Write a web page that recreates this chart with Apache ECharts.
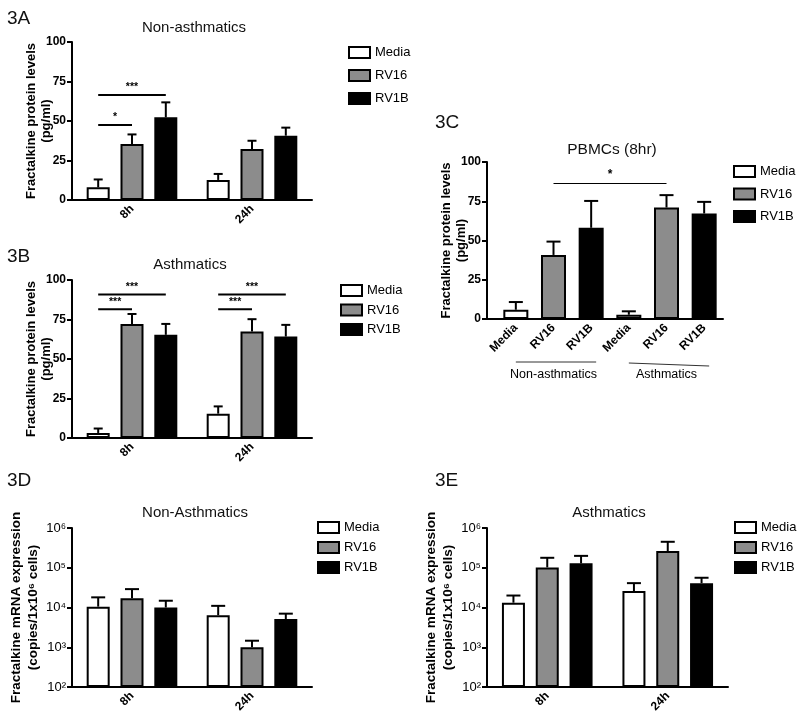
<!DOCTYPE html>
<html><head><meta charset="utf-8">
<script src="https://cdn.jsdelivr.net/npm/echarts@6/dist/echarts.min.js"></script>
<style>html,body{margin:0;padding:0;background:#fff}#c{width:800px;height:719px}</style>
</head><body><div id="c"></div>
<script>
// ---------- data ----------
const groups = ['Media', 'RV16', 'RV1B'];
const timeCats = ['8h', '24h'];
const linTicks = [0, 25, 50, 75, 100];
const logTickLabels = ['10²', '10³', '10⁴', '10⁵', '10⁶'];

// 3A Non-asthmatics (pg/ml), mean and top of error bar
const aMedia = [8, 12.7],    aMediaErr = [13, 16.5];
const aRV16  = [35.4, 32.3], aRV16Err  = [41.5, 37.5];
const aRV1B  = [52.3, 40.7], aRV1BErr  = [61.8, 45.8];
const aSig = [[0, 0, 2, 66.5], [0, 0, 1, 47.5]];   // [category, fromBar, toBar, level]
const aSigLabel = ['***', '*'];

// 3B Asthmatics (pg/ml)
const bMedia = [3.2, 15.4],  bMediaErr = [6, 20];
const bRV16  = [72.2, 67.4], bRV16Err  = [78.5, 75.2];
const bRV1B  = [65.3, 64.2], bRV1BErr  = [72.2, 71.6];
const bSig = [[0, 0, 2, 90.9], [0, 0, 1, 81.5], [1, 0, 2, 90.9], [1, 0, 1, 81.5]];
const bSigLabel = ['***', '***', '***', '***'];

// 3C PBMCs (8hr)
const cCats = ['Media', 'RV16', 'RV1B', 'Media', 'RV16', 'RV1B'];
const cGroups = ['Non-asthmatics', 'Asthmatics'];
const cGroupSpan = [[0, 2], [3, 5]];
const cVals = [5.9, 40.8, 58.1, 2.7, 71, 67.2];
const cErr  = [10.8, 49.3, 75.2, 4.9, 78.9, 74.6];
const cSig = [[1, 4, 86.3]];
const cSigLabel = ['*'];

// 3D Non-Asthmatics mRNA (copies/1x10^6 cells)
const dMedia = [10500, 6400],  dMediaErr = [18000, 11000];
const dRV16  = [17000, 1000],  dRV16Err  = [29000, 1460];
const dRV1B  = [10000, 5100],  dRV1BErr  = [14800, 7000];

// 3E Asthmatics mRNA
const eMedia = [13200, 26000],   eMediaErr = [20000, 41000];
const eRV16  = [102000, 264000], eRV16Err  = [178000, 450000];
const eRV1B  = [129000, 41000],  eRV1BErr  = [199000, 56000];

// ---------- styling ----------
const FONT = '"Liberation Sans", Arial, sans-serif';
const fills = ['#ffffff', '#8c8c8c', '#000000'];
const BW = 23, GAP = 0.47, SP = BW * (1 + GAP);

function baseX(gi, data, extra) {
  return Object.assign({
    type: 'category', gridIndex: gi, data: data,
    axisLine: {lineStyle: {color: '#000', width: 2}},
    axisTick: {alignWithLabel: true, length: 5, lineStyle: {color: '#000', width: 2}},
    axisLabel: {rotate: 45, margin: 7, color: '#000', fontFamily: FONT, fontWeight: 'bold', fontSize: 12},
    splitLine: {show: false}
  }, extra || {});
}
function linY(gi, name, extra) {
  return Object.assign({
    type: 'value', gridIndex: gi, min: linTicks[0], max: linTicks[linTicks.length - 1],
    interval: linTicks[1] - linTicks[0],
    name: name, nameLocation: 'middle', nameGap: 18, nameMoveOverlap: false,
    nameTextStyle: {fontFamily: FONT, fontWeight: 'bold', fontSize: 13, color: '#000', lineHeight: 15},
    axisLine: {show: true, lineStyle: {color: '#000', width: 2}},
    axisTick: {show: true, length: 5, lineStyle: {color: '#000', width: 2}},
    axisLabel: {margin: 6, color: '#000', fontFamily: FONT, fontWeight: 'bold', fontSize: 12},
    splitLine: {show: false}
  }, extra || {});
}
function logY(gi, name) {
  return {
    type: 'log', logBase: 10, gridIndex: gi, min: 100, max: 1000000, startValue: 100,
    name: name, nameLocation: 'middle', nameGap: 30,
    nameTextStyle: {fontFamily: FONT, fontWeight: 'bold', fontSize: 13.5, color: '#000', lineHeight: 17},
    axisLine: {show: true, lineStyle: {color: '#000', width: 2}},
    axisTick: {show: true, length: 5, lineStyle: {color: '#000', width: 2}},
    axisLabel: {margin: 6, color: '#000', fontFamily: FONT, fontSize: 13,
      formatter: v => logTickLabels[Math.round(Math.log10(v)) - 2]},
    minorTick: {show: false}, splitLine: {show: false}
  };
}

function grouped(gi, means, errs, cap) {
  const out = [];
  means.forEach((m, k) => {
    out.push({type: 'bar', name: groups[k], xAxisIndex: gi, yAxisIndex: gi, data: m,
      barWidth: BW, barGap: (GAP * 100) + '%', clip: true, silent: true,
      itemStyle: {color: fills[k], borderColor: '#000', borderWidth: 2}});
  });
  const ed = [];
  means.forEach((m, k) => m.forEach((v, c) => ed.push([c, v, errs[k][c], k])));
  out.push({type: 'custom', xAxisIndex: gi, yAxisIndex: gi, data: ed, silent: true, z: 3,
    encode: {x: 0, y: [1, 2]},
    renderItem: (p, api) => {
      const b = api.coord([api.value(0), api.value(1)]);
      const t = api.coord([api.value(0), api.value(2)]);
      const x = b[0] + (api.value(3) - 1) * SP;
      return {type: 'group', children: [
        {type: 'line', shape: {x1: x, y1: b[1], x2: x, y2: t[1]}, style: {stroke: '#000', lineWidth: 2}},
        {type: 'line', shape: {x1: x - cap, y1: t[1], x2: x + cap, y2: t[1]}, style: {stroke: '#000', lineWidth: 2}}
      ]};
    }});
  return out;
}
function sigGrouped(gi, rows, labels) {
  return {type: 'custom', xAxisIndex: gi, yAxisIndex: gi, data: rows, silent: true, z: 4,
    encode: {x: 0, y: 3},
    renderItem: (p, api) => {
      const a = api.coord([api.value(0), api.value(3)]);
      const x1 = a[0] + (api.value(1) - 1) * SP, x2 = a[0] + (api.value(2) - 1) * SP;
      return {type: 'group', children: [
        {type: 'line', shape: {x1: x1, y1: a[1], x2: x2, y2: a[1]}, style: {stroke: '#000', lineWidth: 2}},
        {type: 'text', x: (x1 + x2) / 2, y: a[1] - 2, style: {text: labels[p.dataIndex], align: 'center',
          verticalAlign: 'bottom', fontFamily: FONT, fontWeight: 'bold', fontSize: 10.5, fill: '#000'}}
      ]};
    }};
}

const protName = 'Fractalkine protein levels\n(pg/ml)';
const mrnaName = 'Fractalkine mRNA expression\n(copies/1x10⁶ cells)';

const series = [];
series.push(...grouped(0, [aMedia, aRV16, aRV1B], [aMediaErr, aRV16Err, aRV1BErr], 4.5));
series.push(sigGrouped(0, aSig, aSigLabel));
series.push(...grouped(1, [bMedia, bRV16, bRV1B], [bMediaErr, bRV16Err, bRV1BErr], 4.5));
series.push(sigGrouped(1, bSig, bSigLabel));
series.push(...grouped(3, [dMedia, dRV16, dRV1B], [dMediaErr, dRV16Err, dRV1BErr], 7));
series.push(...grouped(4, [eMedia, eRV16, eRV1B], [eMediaErr, eRV16Err, eRV1BErr], 7));

// 3C
groups.forEach((g, k) => {
  series.push({type: 'bar', name: g, xAxisIndex: 2, yAxisIndex: 2, barWidth: 25, barGap: '-100%', silent: true,
    data: cCats.map((n, i) => n === g ? cVals[i] : '-'),
    itemStyle: {color: fills[k], borderColor: '#000', borderWidth: 2}});
});
series.push({type: 'custom', xAxisIndex: 2, yAxisIndex: 2, silent: true, z: 3,
  data: cVals.map((v, i) => [i, v, cErr[i]]), encode: {x: 0, y: [1, 2]},
  renderItem: (p, api) => {
    const b = api.coord([api.value(0), api.value(1)]);
    const t = api.coord([api.value(0), api.value(2)]);
    return {type: 'group', children: [
      {type: 'line', shape: {x1: b[0], y1: b[1], x2: b[0], y2: t[1]}, style: {stroke: '#000', lineWidth: 2}},
      {type: 'line', shape: {x1: b[0] - 7, y1: t[1], x2: b[0] + 7, y2: t[1]}, style: {stroke: '#000', lineWidth: 2}}
    ]};
  }});
series.push({type: 'custom', xAxisIndex: 2, yAxisIndex: 2, silent: true, z: 4,
  data: cSig, encode: {x: [0, 1], y: 2},
  renderItem: (p, api) => {
    const a = api.coord([api.value(0), api.value(2)]);
    const b = api.coord([api.value(1), api.value(2)]);
    return {type: 'group', children: [
      {type: 'line', shape: {x1: a[0], y1: a[1], x2: b[0], y2: a[1]}, style: {stroke: '#000', lineWidth: 1}},
      {type: 'text', x: (a[0] + b[0]) / 2, y: a[1] - 3, style: {text: cSigLabel[p.dataIndex], align: 'center',
        verticalAlign: 'bottom', fontFamily: FONT, fontWeight: 'bold', fontSize: 12, fill: '#000'}}
    ]};
  }});
series.push({type: 'custom', xAxisIndex: 2, yAxisIndex: 2, silent: true,
  data: cGroupSpan, encode: {x: [0, 1]},
  renderItem: (p, api) => {
    const a = api.coord([api.value(0), 0]);
    const b = api.coord([api.value(1), 0]);
    const dy1 = p.dataIndex === 0 ? 43 : 44, dy2 = p.dataIndex === 0 ? 43 : 47;
    return {type: 'line', shape: {x1: a[0], y1: a[1] + dy1, x2: b[0] + 5, y2: a[1] + dy2},
      style: {stroke: '#333', lineWidth: 1}};
  }});

function legendAt(left, top, gap) {
  return {left: left, top: top, orient: 'vertical', data: groups, icon: 'rect', itemWidth: 21, itemHeight: 11,
    itemGap: gap, padding: 0, selectedMode: false,
    textStyle: {fontFamily: FONT, fontSize: 13, color: '#000'}};
}
function txt(x, y, s, size, align) {
  return {type: 'text', x: x, y: y, silent: true,
    style: {text: s, fontFamily: FONT, fontSize: size, fill: '#111', align: align || 'center', verticalAlign: 'middle'}};
}

const option = {
  animation: false,
  backgroundColor: '#fff',
  grid: [
    {left: 72, top: 42, width: 240, height: 158},
    {left: 72, top: 280, width: 240, height: 158},
    {left: 497, top: 162, width: 226, height: 157},
    {left: 72, top: 528, width: 240, height: 159},
    {left: 487, top: 528, width: 241, height: 159}
  ],
  xAxis: [
    baseX(0, timeCats), baseX(1, timeCats), baseX(2, cCats, {axisLabel: {rotate: 45, margin: 7, color: '#000',
      fontFamily: FONT, fontWeight: 'bold', fontSize: 12, formatter: (v, i) => cCats[i]}}),
    baseX(3, timeCats), baseX(4, timeCats),
    {type: 'category', gridIndex: 2, data: cGroups, position: 'bottom', offset: 44,
      axisLine: {show: false}, axisTick: {show: false}, splitLine: {show: false},
      axisLabel: {margin: 5, color: '#000', fontFamily: FONT, fontSize: 12.5}}
  ],
  yAxis: [
    linY(0, protName), linY(1, protName), linY(2, protName, {offset: 10, nameGap: 18}),
    logY(3, mrnaName), logY(4, mrnaName)
  ],
  legend: [legendAt(348, 46, 10), legendAt(340, 284, 6.5), legendAt(733, 165, 9.5),
           legendAt(317, 521, 7), legendAt(734, 521, 7)],
  graphic: [
    txt(7, 19, '3A', 19, 'left'), txt(194, 28, 'Non-asthmatics', 15),
    txt(7, 257, '3B', 19, 'left'), txt(190, 265, 'Asthmatics', 15),
    txt(435, 123, '3C', 19, 'left'), txt(612, 150, 'PBMCs (8hr)', 15.5),
    txt(7, 481, '3D', 19, 'left'), txt(195, 513, 'Non-Asthmatics', 15),
    txt(435, 481, '3E', 19, 'left'), txt(609, 513, 'Asthmatics', 15),
    {type: 'line', silent: true, shape: {x1: 487, y1: 319, x2: 498, y2: 319}, style: {stroke: '#000', lineWidth: 2}}
  ],
  series: series
};
const chart = echarts.init(document.getElementById('c'), null, {renderer: 'canvas'});
chart.setOption(option);
</script></body></html>
